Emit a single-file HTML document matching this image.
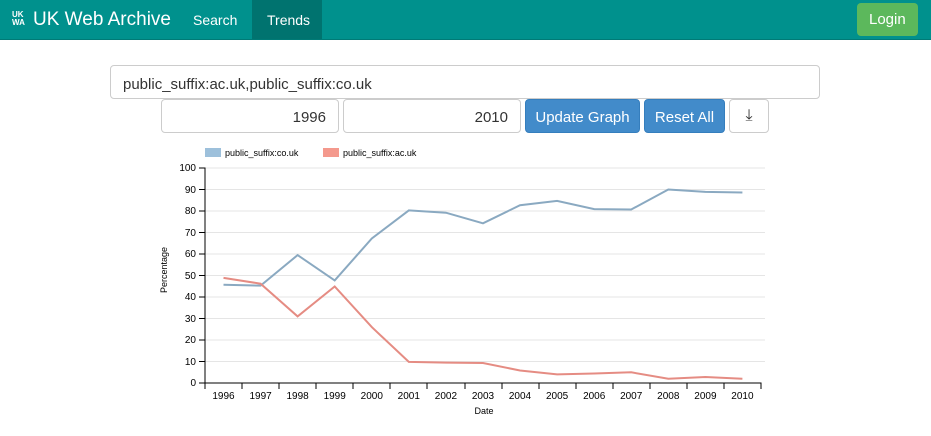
<!DOCTYPE html>
<html><head><style>
body{margin:0;width:931px;height:436px;background:#fff;font-family:"Liberation Sans",sans-serif;overflow:hidden;position:relative}
.nav{position:absolute;left:0;top:0;width:931px;height:39px;background:#00918d;border-bottom:1px solid #007a76}
.nav div{position:absolute;color:#fff}
.in{position:absolute;border:1px solid #ccc;border-radius:4px;box-sizing:border-box;font-size:15px;color:#333}
.btn{position:absolute;background:#428bca;border:1px solid #357ebd;border-radius:4px;color:#fff;font-size:15px;text-align:center;box-sizing:border-box}
</style></head><body>
<div class="nav">
<div style="left:12px;top:11px;font-size:8px;line-height:8px;font-weight:bold">UK<br>WA</div>
<div style="left:33px;top:9px;font-size:19px">UK Web Archive</div>
<div style="left:193px;top:12px;font-size:14px">Search</div>
<div style="left:252px;top:0;width:70px;height:39px;background:#00736f"></div>
<div style="left:267px;top:12px;font-size:14px">Trends</div>
<div style="left:857px;top:3px;width:61px;height:33px;background:#5cb85c;border-radius:4px"></div>
<div style="left:869px;top:11px;font-size:15px">Login</div>
</div>
<div class="in" style="left:110px;top:65px;width:710px;height:34px;padding:10px 12px">public_suffix:ac.uk,public_suffix:co.uk</div>
<div class="in" style="left:161px;top:99px;width:178px;height:34px;padding:9px 12px;text-align:right">1996</div>
<div class="in" style="left:343px;top:99px;width:178px;height:34px;padding:9px 12px;text-align:right">2010</div>
<div class="btn" style="left:525px;top:99px;width:115px;height:34px;padding-top:9px">Update Graph</div>
<div class="btn" style="left:644px;top:99px;width:81px;height:34px;padding-top:9px">Reset All</div>
<div class="in" style="left:729px;top:99px;width:40px;height:34px;text-align:center;padding-top:7px;font-size:16px">&#x2913;</div>
<svg style="position:absolute;left:0;top:0" width="931" height="436" font-family="Liberation Sans" font-size="10">
<rect x="205" y="148" width="16" height="9" fill="#9dc0db"/><text x="225" y="156" font-size="9">public_suffix:co.uk</text>
<rect x="323" y="148" width="16" height="9" fill="#f4998d"/><text x="343" y="156" font-size="9">public_suffix:ac.uk</text>
<g stroke="#e5e5e5">
<line x1="205" x2="765" y1="168" y2="168"/><line x1="205" x2="765" y1="189.5" y2="189.5"/><line x1="205" x2="765" y1="211" y2="211"/><line x1="205" x2="765" y1="232.5" y2="232.5"/><line x1="205" x2="765" y1="254" y2="254"/><line x1="205" x2="765" y1="275.5" y2="275.5"/><line x1="205" x2="765" y1="297" y2="297"/><line x1="205" x2="765" y1="318.5" y2="318.5"/><line x1="205" x2="765" y1="340" y2="340"/><line x1="205" x2="765" y1="361.5" y2="361.5"/></g>
<g stroke="#000" fill="none"><path d="M199 168H205V383H199"/><path d="M205 389V383H761V389"/>
<path d="M199 189.5h6M199 211h6M199 232.5h6M199 254h6M199 275.5h6M199 297h6M199 318.5h6M199 340h6M199 361.5h6"/>
<path d="M242 383v6M279 383v6M316 383v6M353 383v6M390 383v6M427 383v6M465 383v6M502 383v6M539 383v6M576 383v6M613 383v6M650 383v6M687 383v6M724 383v6"/></g>
<g text-anchor="end"><text x="196" y="171">100</text><text x="196" y="193">90</text><text x="196" y="214">80</text><text x="196" y="236">70</text><text x="196" y="257">60</text><text x="196" y="279">50</text><text x="196" y="300">40</text><text x="196" y="322">30</text><text x="196" y="343">20</text><text x="196" y="365">10</text><text x="196" y="386">0</text></g>
<g text-anchor="middle"><text x="223.5" y="399">1996</text><text x="260.6" y="399">1997</text><text x="297.6" y="399">1998</text><text x="334.7" y="399">1999</text><text x="371.8" y="399">2000</text><text x="408.8" y="399">2001</text><text x="445.9" y="399">2002</text><text x="483" y="399">2003</text><text x="520" y="399">2004</text><text x="557.1" y="399">2005</text><text x="594.2" y="399">2006</text><text x="631.2" y="399">2007</text><text x="668.3" y="399">2008</text><text x="705.4" y="399">2009</text><text x="742.4" y="399">2010</text>
<text x="484" y="414" font-size="9">Date</text>
<text transform="translate(167 270) rotate(-90)" font-size="9">Percentage</text></g>
<polyline fill="none" stroke="#8aa9c1" stroke-width="2" points="223.5,284.7 260.6,285.6 297.6,255.1 334.7,280.4 371.8,238.5 408.8,210.4 445.9,212.7 483,223.3 520,205.2 557.1,200.9 594.2,209.1 631.2,209.5 668.3,189.5 705.4,191.9 742.4,192.5"/>
<polyline fill="none" stroke="#e58c83" stroke-width="2" points="223.5,277.9 260.6,283.7 297.6,316.4 334.7,286.5 371.8,327.1 408.8,361.9 445.9,362.6 483,363 520,370.5 557.1,374.4 594.2,373.5 631.2,372.3 668.3,378.7 705.4,377 742.4,378.7"/>
</svg>
</body></html>
